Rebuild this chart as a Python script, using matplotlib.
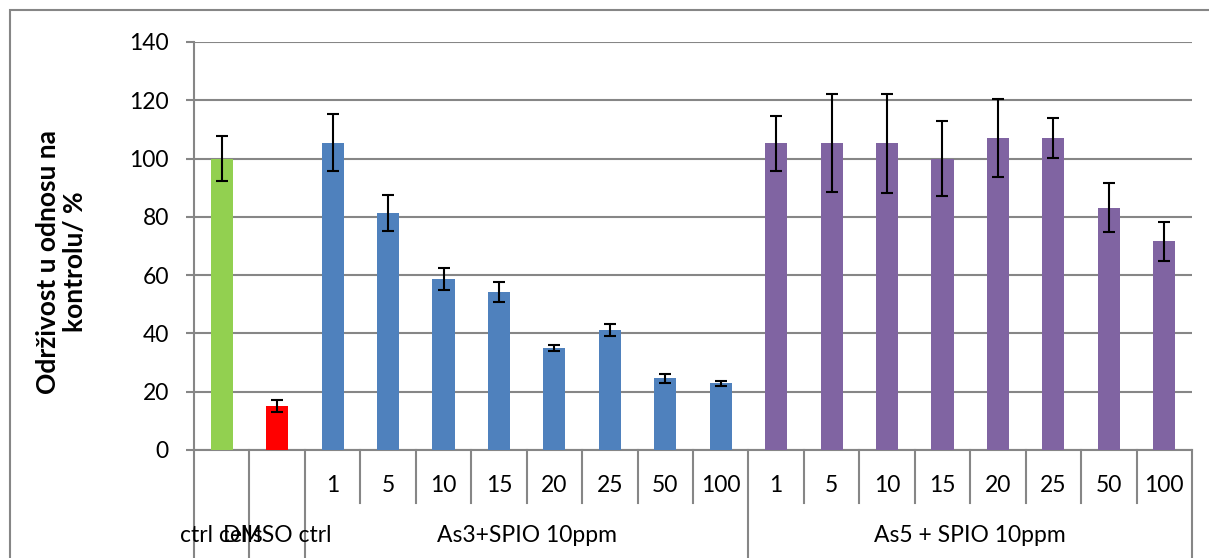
import matplotlib
matplotlib.use("Agg")
import matplotlib.pyplot as plt
from matplotlib.patches import Rectangle

plt.rcParams['font.family'] = ['Lato', 'DejaVu Sans']

# concentrations (level 1 labels) and groups (level 2 labels)
conc_labels = ['', '', '1', '5', '10', '15', '20', '25', '50', '100',
               '1', '5', '10', '15', '20', '25', '50', '100']
group_names = ['ctrl cells', 'DMSO ctrl', 'As3+SPIO 10ppm', 'As5 + SPIO 10ppm']
group_sizes = [1, 1, 8, 8]
group_colors = ['#92D050', '#FF0000', '#4F81BD', '#8064A2']

viability = [100, 15.1, 105.5, 81.2, 58.6, 54.1, 35.1, 41.1, 24.6, 22.9,
             105.2, 105.2, 105.2, 100.0, 107.1, 107.1, 83.1, 71.6]
errors = [7.8, 2.2, 9.9, 6.2, 3.8, 3.4, 1.0, 2.1, 1.5, 0.8,
          9.4, 16.8, 17.0, 13.0, 13.5, 6.9, 8.4, 6.7]

grid_col = '#868686'
fs = 16.5

fig = plt.figure(figsize=(12.09, 5.58), dpi=100)
ax = fig.add_axes([194 / 1209, 1 - 450 / 558, 998 / 1209, 408 / 558])

colors = []
for c, n in zip(group_colors, group_sizes):
    colors += [c] * n
x = list(range(len(viability)))

ax.bar(x, viability, width=0.4, color=colors, zorder=3)
ax.errorbar(x, viability, yerr=errors, fmt='none', ecolor='black',
            elinewidth=1.5, capsize=4.5, capthick=1.5, zorder=4)

ax.set_xlim(-0.5, len(x) - 0.5)
ax.set_ylim(0, 140)
ax.set_yticks(range(0, 141, 20))
ax.yaxis.grid(True, color=grid_col, linewidth=1.5)
ax.set_axisbelow(True)
for s in ['top', 'right']:
    ax.spines[s].set_visible(False)
for s in ['left', 'bottom']:
    ax.spines[s].set_color(grid_col)
    ax.spines[s].set_linewidth(1.5)
ax.tick_params(axis='y', direction='out', length=6, width=1.5, color=grid_col,
               labelsize=fs, pad=12)
ax.set_xticks([])

fig.text(62 / 1209, 1 - 262 / 558, 'Održivost u odnosu na\nkontrolu/ %',
         rotation=90, ha='center', va='center', fontsize=19,
         fontweight='bold', linespacing=1.15)

# two-level category axis
trans = ax.get_xaxis_transform()
for i, lab in enumerate(conc_labels):
    if lab:
        ax.text(i, -35 / 408, lab, transform=trans, ha='center', va='center',
                fontsize=fs)
short_sep = -53 / 408
long_sep = -120 / 408
start = 0
bounds = [-0.5]
for name, n in zip(group_names, group_sizes):
    center = start + (n - 1) / 2
    ax.text(center, -85 / 408, name, transform=trans, ha='center',
            va='center', fontsize=fs)
    start += n
    bounds.append(start - 0.5)
for b in bounds:
    ax.plot([b, b], [0, long_sep], transform=trans, color=grid_col,
            lw=1.5, clip_on=False)
start = 0
for n in group_sizes:
    if n > 1:
        for k in range(1, n):
            b = start + k - 0.5
            ax.plot([b, b], [0, short_sep], transform=trans, color=grid_col,
                    lw=1.5, clip_on=False)
    start += n

# chart area border
fig.patches.append(Rectangle((10 / 1209, -0.1), 1.2, 1.1 - 10 / 558,
                             transform=fig.transFigure, fill=False,
                             edgecolor=grid_col, linewidth=1.5))

fig.savefig('out.png', dpi=100)
